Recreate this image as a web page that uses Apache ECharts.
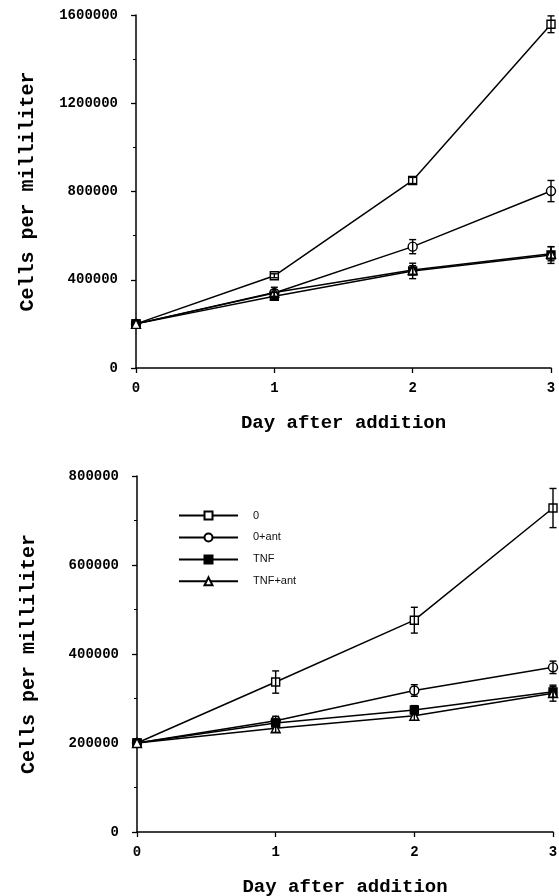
<!DOCTYPE html>
<html>
   <head>
      <script type = "text/javascript" src = "https://cdn.jsdelivr.net/npm/echarts@6/dist/echarts.min.js"></script>
      <title>Cells per milliliter</title>
      <style>body{margin:0;background:#fff;}</style>
   </head>
   <body>
      <div id = "chart" style = "width:559px;height:896px"></div>
      <script type = "text/javascript">
         // day after addition
         var days = [0, 1, 2, 3];
         var names = ["0", "0+ant", "TNF", "TNF+ant"];

         // top panel: means and error (+/-)
         var top_o = [200000, 418000, 850000, 1558000];
         var top_o_err = [0, 9000, 14000, 38000];
         var top_oant = [200000, 340000, 550000, 802000];
         var top_oant_err = [0, 15000, 32000, 48000];
         var top_tnf = [200000, 325000, 440000, 512000];
         var top_tnf_err = [0, 18000, 35000, 38000];
         var top_tnfant = [200000, 342000, 444000, 518000];
         var top_tnfant_err = [0, 24000, 20000, 32000];

         // bottom panel
         var bot_o = [200000, 337000, 476000, 728000];
         var bot_o_err = [0, 25000, 29000, 44000];
         var bot_oant = [200000, 250000, 318000, 370000];
         var bot_oant_err = [0, 10000, 13000, 14000];
         var bot_tnf = [200000, 245000, 274000, 315000];
         var bot_tnf_err = [0, 9000, 10000, 12000];
         var bot_tnfant = [200000, 233000, 261000, 312000];
         var bot_tnfant_err = [0, 9000, 10000, 18000];

         var top_vals = [top_o, top_oant, top_tnf, top_tnfant];
         var top_errs = [top_o_err, top_oant_err, top_tnf_err, top_tnfant_err];
         var bot_vals = [bot_o, bot_oant, bot_tnf, bot_tnfant];
         var bot_errs = [bot_o_err, bot_oant_err, bot_tnf_err, bot_tnfant_err];

         var symbols = ["rect", "circle", "rect", "triangle"];
         var fills = ["#fff", "#fff", "#000", "#fff"];
         var sizes = [8, 9, 8, 9];
         var mono = "Liberation Mono";

         function line_series(vals, idx){
            var out = [];
            for (var i = 0; i < vals.length; ++i){
               var d = [];
               for (var j = 0; j < days.length; ++j) d.push([days[j], vals[i][j]]);
               out.push({
                  name: names[i],
                  type: "line",
                  xAxisIndex: idx, yAxisIndex: idx,
                  data: d,
                  symbol: symbols[i],
                  symbolSize: sizes[i],
                  showAllSymbol: true,
                  lineStyle: {color: "#000", width: 1.5},
                  itemStyle: {color: fills[i], borderColor: "#000", borderWidth: 1.4},
                  z: 3,
                  animation: false
               });
            }
            return out;
         }

         function err_series(vals, errs, idx){
            var d = [];
            for (var i = 0; i < vals.length; ++i){
               for (var j = 0; j < days.length; ++j){
                  if (errs[i][j] > 0) d.push([days[j], vals[i][j] - errs[i][j], vals[i][j] + errs[i][j]]);
               }
            }
            return {
               type: "custom",
               xAxisIndex: idx, yAxisIndex: idx,
               data: d,
               encode: {x: 0, y: [1, 2]},
               z: 4,
               silent: true,
               animation: false,
               renderItem: function(params, api){
                  var x = api.value(0);
                  var p1 = api.coord([x, api.value(2)]), p2 = api.coord([x, api.value(1)]);
                  var w = 3.5, st = {stroke: "#000", lineWidth: 1.4};
                  return {type: "group", children: [
                     {type: "line", shape: {x1: p1[0], y1: p1[1], x2: p2[0], y2: p2[1]}, style: st},
                     {type: "line", shape: {x1: p1[0] - w, y1: p1[1], x2: p1[0] + w, y2: p1[1]}, style: st},
                     {type: "line", shape: {x1: p2[0] - w, y1: p2[1], x2: p2[0] + w, y2: p2[1]}, style: st}
                  ]};
               }
            };
         }

         function x_axis(idx){
            return {
               type: "value", gridIndex: idx, min: 0, max: 3, interval: 1,
               name: "Day after addition", nameLocation: "middle", nameGap: 38,
               nameTextStyle: {fontFamily: mono, fontWeight: "bold", fontSize: 19, color: "#000"},
               axisLine: {lineStyle: {color: "#000", width: 1.5}},
               axisTick: {show: true, length: 5, lineStyle: {color: "#000", width: 1.3}},
               axisLabel: {margin: 8, fontFamily: mono, fontWeight: "bold", fontSize: 14, color: "#000"},
               splitLine: {show: false}
            };
         }
         function y_axis(idx, max, interval){
            return {
               type: "value", gridIndex: idx, min: 0, max: max, interval: interval,
               name: "Cells per milliliter", nameLocation: "middle", nameGap: 90,
               nameTextStyle: {fontFamily: mono, fontWeight: "bold", fontSize: 20, color: "#000"},
               axisLine: {show: true, lineStyle: {color: "#000", width: 1.5}},
               axisTick: {show: true, length: 5, lineStyle: {color: "#000", width: 1.3}},
               minorTick: {show: true, splitNumber: 2, length: 3, lineStyle: {color: "#000", width: 1}},
               axisLabel: {margin: 18, fontFamily: mono, fontWeight: "bold", fontSize: 14, color: "#000",
                  formatter: function(v){ return String(v); }},
               splitLine: {show: false}
            };
         }

         var series = []
            .concat(line_series(top_vals, 0))
            .concat([err_series(top_vals, top_errs, 0)])
            .concat(line_series(bot_vals, 1))
            .concat([err_series(bot_vals, bot_errs, 1)]);

         var myChart = echarts.init(document.getElementById("chart"));
         myChart.setOption({
            animation: false,
            grid: [
               {left: 136, right: 8, top: 15, height: 353, containLabel: false, outerBoundsMode: "none"},
               {left: 137, right: 6, top: 476, height: 356, containLabel: false, outerBoundsMode: "none"}
            ],
            xAxis: [x_axis(0), x_axis(1)],
            yAxis: [y_axis(0, 1600000, 400000), y_axis(1, 800000, 200000)],
            legend: {
               orient: "vertical", left: 178, top: 506, padding: 0,
               itemWidth: 59, itemHeight: 10, itemGap: 3,
               data: names,
               selectedMode: false,
               textStyle: {fontFamily: "Liberation Sans", fontSize: 11, color: "#111", padding: [0, 0, 0, 10]}
            },
            series: series
         });
      </script>
   </body>
</html>
